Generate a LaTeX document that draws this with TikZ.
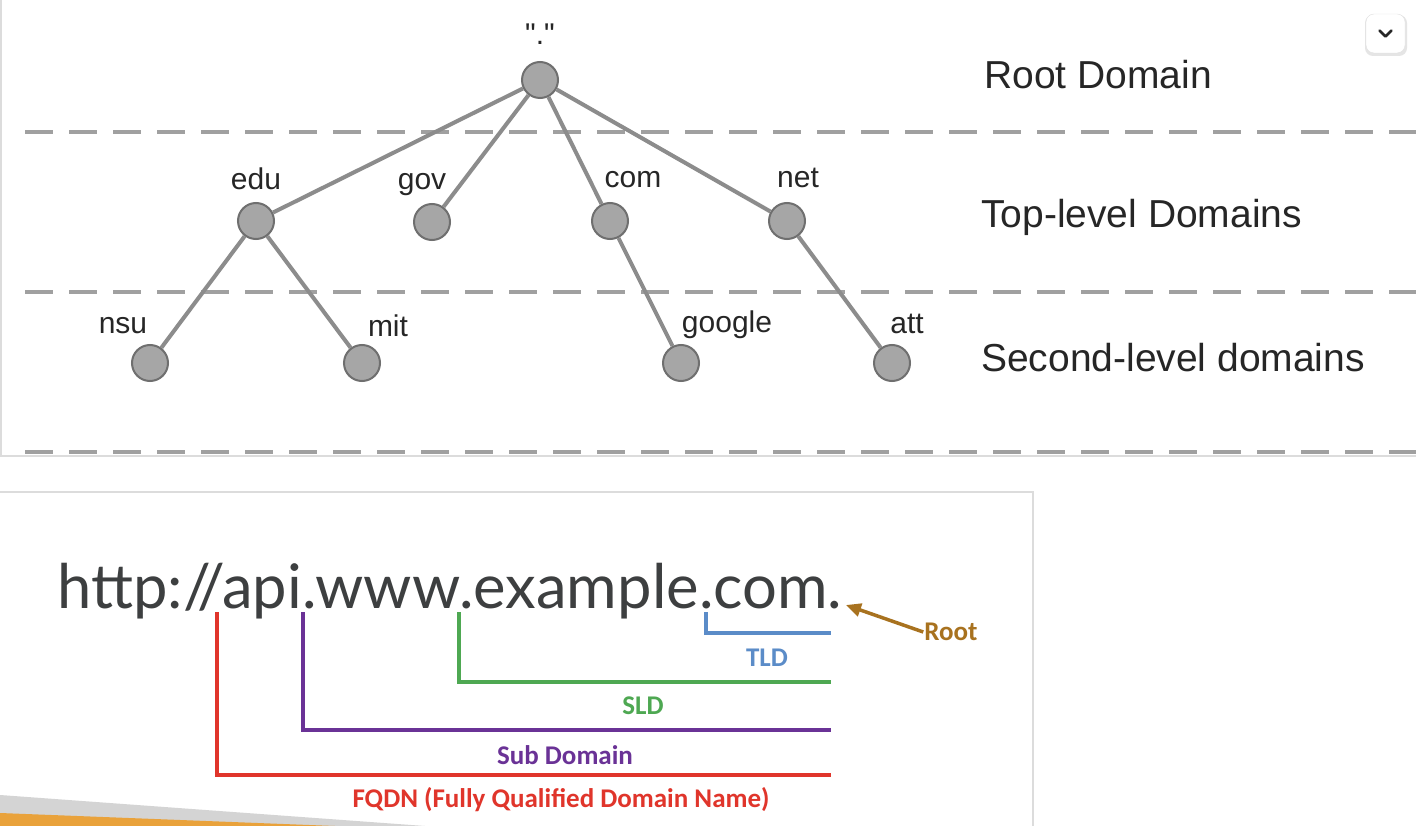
\documentclass[tikz,border=0pt]{standalone}
\usepackage{fontspec}
\setmainfont{Liberation Sans}
\setmonofont{Liberation Sans}
\newfontfamily\urlfont{Lato}
\newfontfamily\calfont{Carlito}
\usepackage{xcolor}
\usepackage{tikz}
\usetikzlibrary{arrows.meta, positioning, calc}

\definecolor{nodefill}{HTML}{A6A6A6}
\definecolor{nodeedge}{HTML}{6F6F6F}
\definecolor{linkgray}{HTML}{8C8C8C}
\definecolor{dashgray}{HTML}{A0A0A0}
\definecolor{framegray}{HTML}{DCDCDC}
\definecolor{urlgray}{HTML}{3D3F40}
\definecolor{fqdnred}{HTML}{E0352B}
\definecolor{subpurple}{HTML}{6A3296}
\definecolor{sldgreen}{HTML}{4EA852}
\definecolor{tldblue}{HTML}{5B8CC8}
\definecolor{rootbrown}{HTML}{A8721F}
\definecolor{wedgegray}{HTML}{D4D4D4}
\definecolor{wedgeorange}{HTML}{E9A23B}

\begin{document}
\begin{tikzpicture}[x=1pt,y=-1pt,
    dom/.style={draw=nodeedge,fill=nodefill,circle,line width=2pt,minimum size=36pt,inner sep=0pt},
    lbl/.style={font=\fontsize{30}{36}\selectfont,anchor=base,inner sep=0pt,text=black!85},
    lvl/.style={font=\fontsize{39}{46}\selectfont,anchor=west,inner sep=0pt,text=black!85},
    sep/.style={dashgray,line width=3.5pt,dash pattern=on 28pt off 16pt},
    link/.style={linkgray,line width=4pt},
    brk/.style={line width=3.5pt},
    tag/.style={font=\calfont\bfseries\fontsize{27}{32}\selectfont,inner sep=1pt}]

    \useasboundingbox (0,0) rectangle (1416,826);
    \fill[white] (0,0) rectangle (1416,826);

    % panel frames
    \draw[framegray,line width=1.5pt] (1,0) -- (1,456) -- (1416,456);
    \draw[framegray,line width=1.5pt] (0,492) -- (1033,492) -- (1033,826);

    % level separators
    \foreach \y in {132,292,452}
      \draw[sep] (25,\y) -- (1416,\y);

    % tree
    \node[dom] (root) at (540,80) {};
    \node[dom] (edu) at (256,221) {};
    \node[dom] (gov) at (432,222) {};
    \node[dom] (com) at (610,221) {};
    \node[dom] (net) at (787,221) {};
    \node[dom] (nsu) at (150,363) {};
    \node[dom] (mit) at (362,363) {};
    \node[dom] (google) at (681,363) {};
    \node[dom] (att) at (892,363) {};

    \foreach \c in {edu,gov,com,net}
      \draw[link] (root) -- (\c);
    \draw[link] (edu) -- (nsu);
    \draw[link] (edu) -- (mit);
    \draw[link] (com) -- (google);
    \draw[link] (net) -- (att);

    \node[lbl,font=\ttfamily\fontsize{30}{36}\selectfont] (rootlbl) at (540,45) {"."};
    \node[lbl] (edulbl) at (256,190) {edu};
    \node[lbl] (govlbl) at (422,190) {gov};
    \node[lbl] (comlbl) at (633,188) {com};
    \node[lbl] (netlbl) at (798,188) {net};
    \node[lbl] (nsulbl) at (123,333) {nsu};
    \node[lbl] (mitlbl) at (388,337) {mit};
    \node[lbl] (googlelbl) at (727,332) {google};
    \node[lbl] (attlbl) at (907,333) {att};

    \node[lvl] (rootlvl) at (984,75) {Root Domain};
    \node[lvl] (toplvl) at (981,217) {Top-level Domains};
    \node[lvl] (seclvl) at (981,358) {Second-level domains};

    % menu button
    \fill[black!10,rounded corners=8pt] (1365,15) rectangle (1407,56);
    \node[draw=black!12,fill=white,rounded corners=8pt,minimum size=39pt,inner sep=0pt] (menu) at (1385.5,33.5) {};
    \draw[black!85,line width=2.6pt,line cap=round,line join=round]
      ($(menu.center)+(-6,-3)$) -- ++(6,6) -- ++(6,-6);

    % domain name parts
    \node[font=\urlfont\fontsize{61.5}{68}\selectfont,text=urlgray,anchor=base west,inner sep=0pt]
      (url) at (57,608) {http://api.www.example.com.};

    \coordinate (fqdn) at (217,612);
    \coordinate (sub) at (303,612);
    \coordinate (sld) at (459,612);
    \coordinate (tld) at (706,612);
    \coordinate (fqdnend) at (831,775);
    \coordinate (subend) at (831,730);
    \coordinate (sldend) at (831,682);
    \coordinate (tldend) at (831,633);
    \coordinate (rootdot) at (846,605);

    \draw[brk,fqdnred] (fqdn) |- (fqdnend);
    \draw[brk,subpurple] (sub) |- (subend);
    \draw[brk,sldgreen] (sld) |- (sldend);
    \draw[brk,tldblue] (tld) |- (tldend);

    \node[tag,text=tldblue] (tldlbl) at (767,658) {TLD};
    \node[tag,text=sldgreen] (sldlbl) at (643,706) {SLD};
    \node[tag,text=subpurple] (sublbl) at (565,755) {Sub Domain};
    \node[tag,text=fqdnred] (fqdnlbl) at (561,800) {FQDN (Fully Qualified Domain Name)};
    \node[tag,text=rootbrown] (rootname) at (951,632) {Root};

    \draw[rootbrown,line width=3.5pt,-{Triangle[length=15pt,width=13pt]}]
      (rootname.west) -- (rootdot);

    % corner wedges
    \fill[wedgegray] (0,795) -- (425,826) -- (0,826) -- cycle;
    \fill[wedgeorange] (0,813) -- (335,826) -- (0,826) -- cycle;
  \end{tikzpicture}
\end{document}
